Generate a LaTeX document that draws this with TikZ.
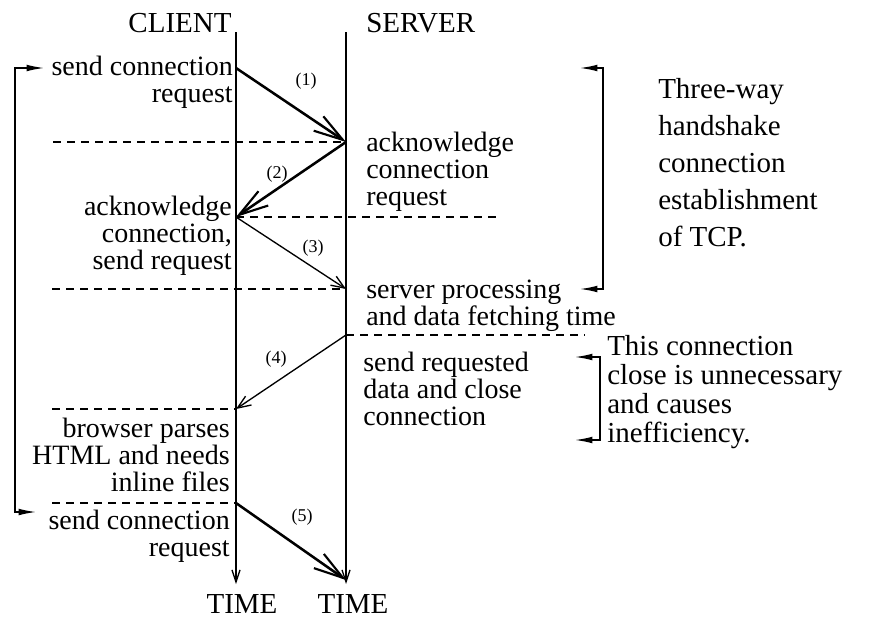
\documentclass[tikz,border=0pt]{standalone}
\usepackage{fontspec}
\setmainfont{Liberation Serif}
\usetikzlibrary{arrows.meta}
\begin{document}
\begin{tikzpicture}[x=0.75pt,y=-0.75pt,
  txt/.style={inner sep=0pt, font=\fontsize{21}{20.25}\selectfont},
  note/.style={inner sep=0pt, font=\fontsize{21.75}{27.75}\selectfont, align=left, anchor=north west},
  num/.style={inner sep=0pt, font=\fontsize{13.5}{16}\selectfont},
  timeline/.style={line width=1.1pt, -{Straight Barb[length=9pt,width=6pt,line width=1pt]}},
  heavy/.style={line width=1.9pt, -{Straight Barb[length=22pt,width=13pt,line width=1.6pt]}},
  light/.style={line width=1pt, -{Straight Barb[length=10pt,width=8pt,line width=1pt]}},
  guide/.style={line width=0.9pt, dash pattern=on 6pt off 4.5pt},
  loop/.style={line width=1pt, -{Latex[length=13pt,width=5pt]}},
]
\useasboundingbox (0,0) rectangle (870,618);

% time lines
\coordinate (ctop) at (236,32);
\coordinate (cend) at (236,584);
\coordinate (stop) at (346,32);
\coordinate (send) at (346,584);
\draw[timeline] (ctop) -- (cend);
\draw[timeline] (stop) -- (send);

\node[txt, font=\fontsize{21.75}{20}\selectfont, anchor=base] (client) at (180,32) {CLIENT};
\node[txt, font=\fontsize{21.75}{20}\selectfont, anchor=base west] (server) at (366,32) {SERVER};
\node[txt, font=\fontsize{21.75}{20}\selectfont, anchor=base] (ctime) at (242,613) {TIME};
\node[txt, font=\fontsize{21.75}{20}\selectfont, anchor=base] (stime) at (353,613) {TIME};

% events
\coordinate (c1) at (236,68);
\coordinate (s1) at (346,142);
\coordinate (c2) at (236,217);
\coordinate (s2) at (346,289);
\coordinate (s3) at (346,335);
\coordinate (c3) at (236,409);
\coordinate (c4) at (236,503);
\coordinate (s4) at (346,580);

% dashed guides
\coordinate (g1) at (53,142);
\coordinate (g2) at (500,217);
\coordinate (g3) at (52,289);
\coordinate (g4) at (585,335);
\coordinate (g5) at (52,409);
\coordinate (g6) at (52,503);
\draw[guide] (g1) -- (s1);
\draw[guide] (c2) -- (g2);
\draw[guide] (g3) -- (s2);
\draw[guide] (s3) -- (g4);
\draw[guide] (g5) -- (c3);
\draw[guide] (g6) -- (c4);

% messages
\draw[heavy] (c1) -- (s1);
\draw[heavy] (s1) -- (c2);
\draw[light] (c2) -- (s2);
\draw[light] (s3) -- (c3);
\draw[heavy] (c4) -- (s4);

\node[num] (n1) at (306,81) {(1)};
\node[num] (n2) at (277,174) {(2)};
\node[num] (n3) at (313,248) {(3)};
\node[num] (n4) at (276,359) {(4)};
\node[num] (n5) at (302,517) {(5)};

% client side texts
\node[txt, align=right, anchor=north east] (t1) at (233,56) {send connection\\request};
\node[txt, align=right, anchor=north east] (t2) at (232,196) {acknowledge\\connection,\\send request};
\node[txt, align=right, anchor=north east] (t3) at (230,418) {browser parses\\HTML and needs\\inline files};
\node[txt, align=right, anchor=north east] (t4) at (230,510) {send connection\\request};

% server side texts
\node[txt, align=left, anchor=north west] (u1) at (366,132) {acknowledge\\connection\\request};
\node[txt, align=left, anchor=north west] (u2) at (366,280) {server processing\\and data fetching time};
\node[txt, align=left, anchor=north west] (u3) at (363,352) {send requested\\data and close\\connection};

% left loop
\coordinate (l1) at (15,68);
\coordinate (l2) at (15,512);
\coordinate (la) at (44,68);
\coordinate (lb) at (36,512);
\draw[loop] (l2) -- (l1) -- (la);
\draw[loop] (l1) -- (l2) -- (lb);

% bracket 1
\coordinate (b1a) at (580,68);
\coordinate (b1b) at (603,68);
\coordinate (b1c) at (603,289);
\coordinate (b1d) at (580,289);
\draw[loop] (b1c) -- (b1b) -- (b1a);
\draw[loop] (b1b) -- (b1c) -- (b1d);
\node[note] (three) at (658,78) {Three-way\\handshake\\connection\\establishment\\of TCP.};

% bracket 2
\coordinate (b2a) at (575,357);
\coordinate (b2b) at (600,357);
\coordinate (b2c) at (600,440);
\coordinate (b2d) at (575,440);
\draw[loop] (b2c) -- (b2b) -- (b2a);
\draw[loop] (b2b) -- (b2c) -- (b2d);
\node[note, font=\fontsize{21.75}{21.75}\selectfont] (close) at (607,335) {This connection\\close is unnecessary\\and causes\\inefficiency.};
\end{tikzpicture}
\end{document}
